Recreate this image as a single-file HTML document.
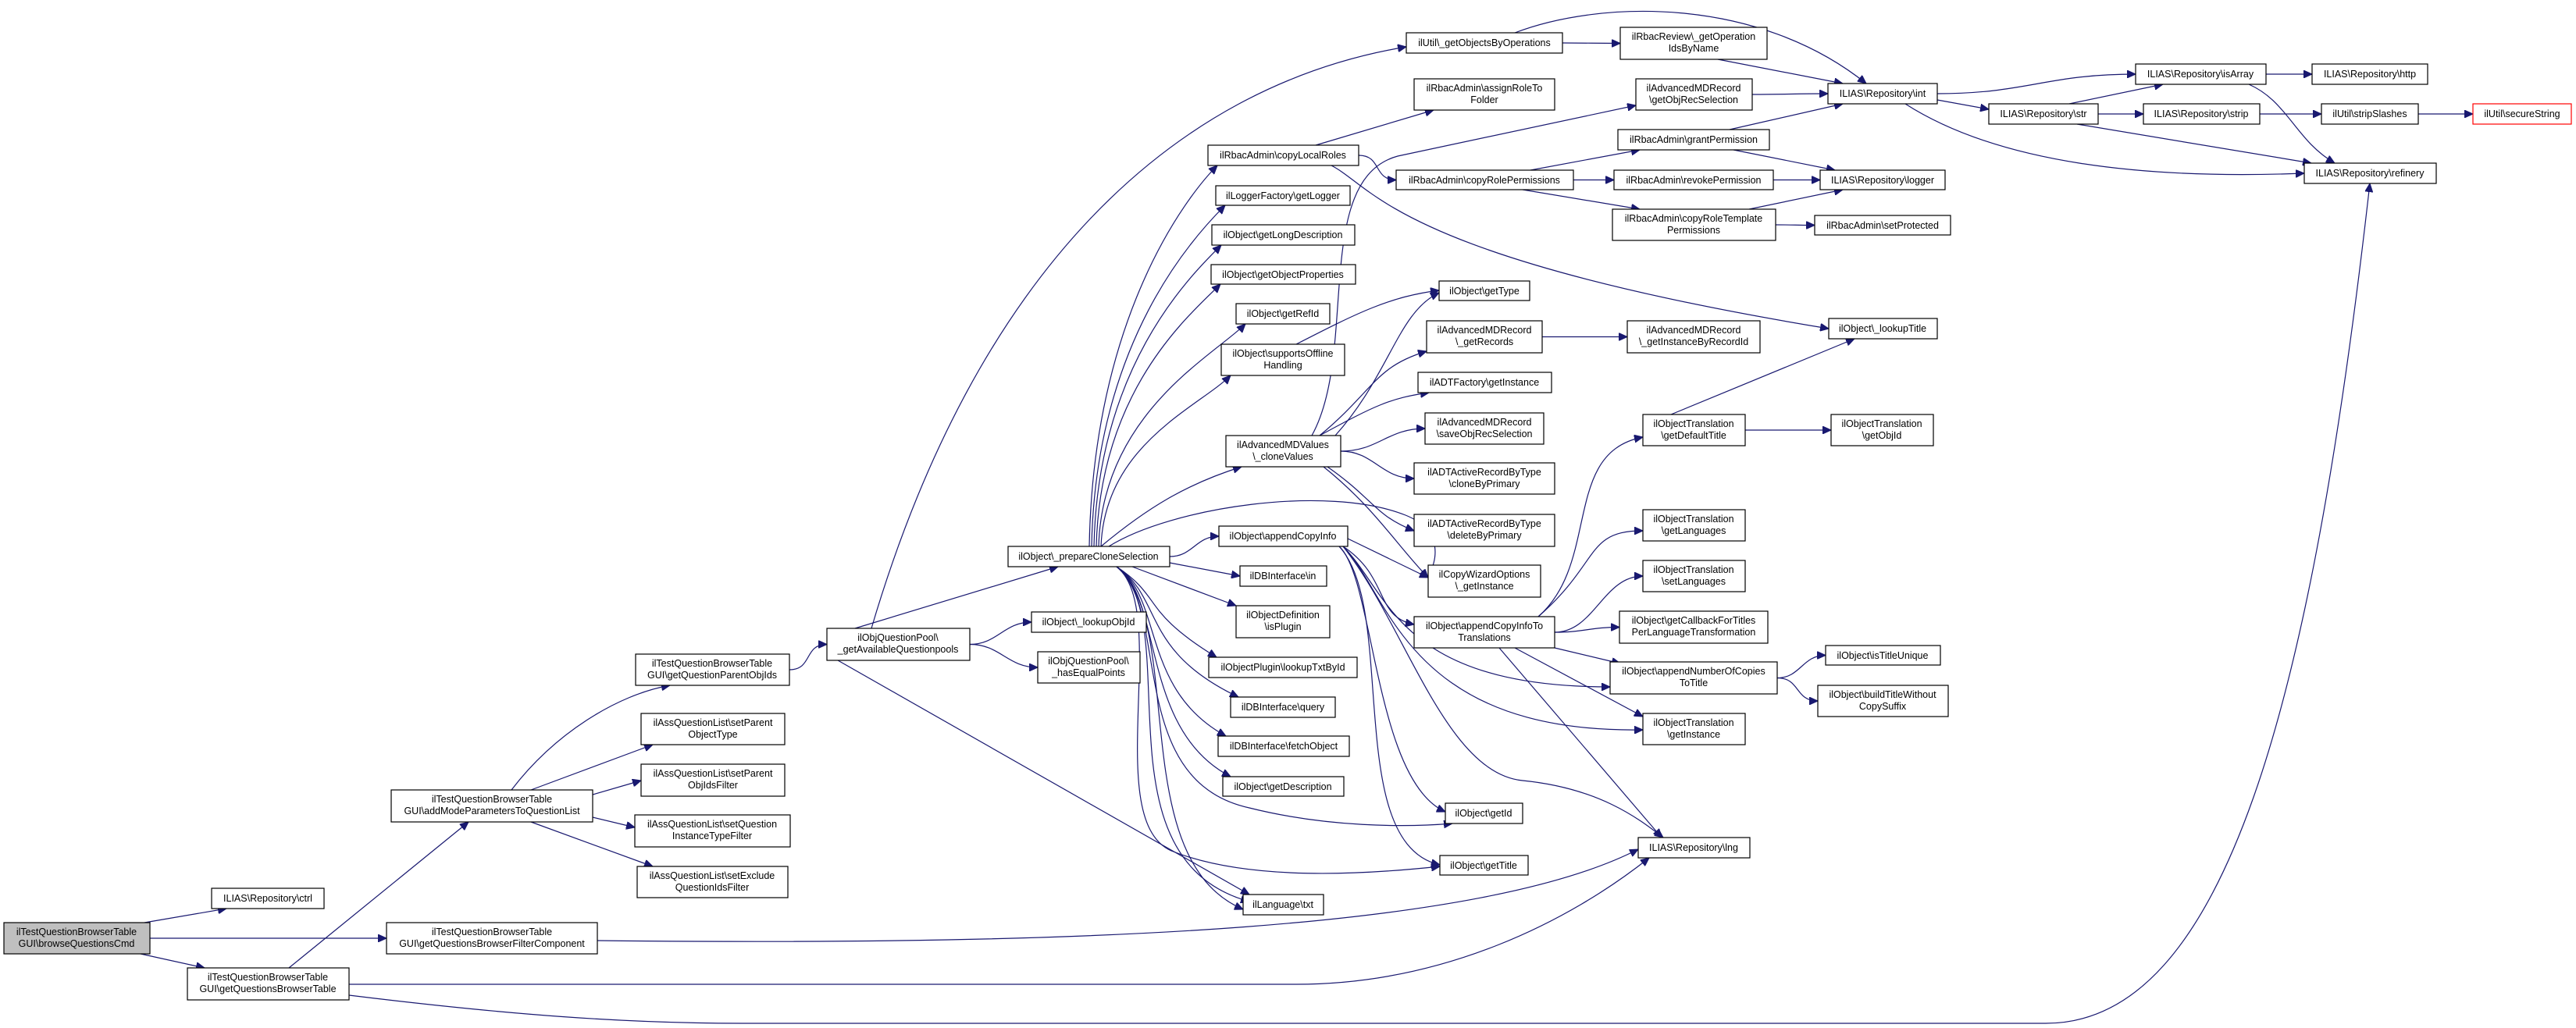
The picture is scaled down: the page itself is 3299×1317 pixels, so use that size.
<!DOCTYPE html>
<html><head><meta charset="utf-8"><style>
html,body{margin:0;padding:0;background:#fff;}
svg{display:block;}
text{font-family:"Liberation Sans",Arial,sans-serif;font-size:12.5px;fill:#000;text-anchor:middle;}
rect{fill:#fff;stroke:#000;stroke-width:1.2;}
path.e{fill:none;stroke:#191970;stroke-width:1.2;}
</style></head><body>
<svg id="s" width="3299" height="1317" viewBox="0 0 3299 1317" xmlns="http://www.w3.org/2000/svg">
<defs><marker id="a" markerWidth="12" markerHeight="10" refX="11" refY="5" orient="auto" markerUnits="userSpaceOnUse"><path d="M0,0 L11,5 L0,10 z" fill="#191970" stroke="#191970"/></marker></defs>
<g id="edges"></g>
<g id="nodes">
<rect x="5" y="1182" width="187" height="40" style="fill:#bfbfbf"/><text x="98" y="1198">ilTestQuestionBrowserTable</text><text x="98" y="1213">GUI\browseQuestionsCmd</text>
<rect x="271" y="1138" width="144" height="26"/><text x="343" y="1155">ILIAS\Repository\ctrl</text>
<rect x="495" y="1182" width="270" height="40"/><text x="630" y="1198">ilTestQuestionBrowserTable</text><text x="630" y="1213">GUI\getQuestionsBrowserFilterComponent</text>
<rect x="240" y="1240" width="207" height="41"/><text x="343" y="1256">ilTestQuestionBrowserTable</text><text x="343" y="1271">GUI\getQuestionsBrowserTable</text>
<rect x="501" y="1012" width="258" height="41"/><text x="630" y="1028">ilTestQuestionBrowserTable</text><text x="630" y="1043">GUI\addModeParametersToQuestionList</text>
<rect x="814" y="838" width="197" height="40"/><text x="912" y="854">ilTestQuestionBrowserTable</text><text x="912" y="869">GUI\getQuestionParentObjIds</text>
<rect x="821" y="914" width="184" height="40"/><text x="913" y="930">ilAssQuestionList\setParent</text><text x="913" y="945">ObjectType</text>
<rect x="821" y="979" width="184" height="41"/><text x="913" y="995">ilAssQuestionList\setParent</text><text x="913" y="1010">ObjIdsFilter</text>
<rect x="813" y="1044" width="199" height="41"/><text x="912" y="1060">ilAssQuestionList\setQuestion</text><text x="912" y="1075">InstanceTypeFilter</text>
<rect x="816" y="1110" width="193" height="40"/><text x="912" y="1126">ilAssQuestionList\setExclude</text><text x="912" y="1141">QuestionIdsFilter</text>
<rect x="1059" y="805" width="183" height="41"/><text x="1150" y="821">ilObjQuestionPool\</text><text x="1150" y="836">_getAvailableQuestionpools</text>
<rect x="1291" y="700" width="207" height="26"/><text x="1394" y="717">ilObject\_prepareCloneSelection</text>
<rect x="1321" y="784" width="147" height="26"/><text x="1394" y="801">ilObject\_lookupObjId</text>
<rect x="1329" y="835" width="131" height="40"/><text x="1394" y="851">ilObjQuestionPool\</text><text x="1394" y="866">_hasEqualPoints</text>
<rect x="1561" y="674" width="165" height="26"/><text x="1643" y="691">ilObject\appendCopyInfo</text>
<rect x="1588" y="725" width="111" height="26"/><text x="1643" y="742">ilDBInterface\in</text>
<rect x="1583" y="776" width="120" height="41"/><text x="1643" y="792">ilObjectDefinition</text><text x="1643" y="807">\isPlugin</text>
<rect x="1548" y="842" width="190" height="26"/><text x="1643" y="859">ilObjectPlugin\lookupTxtById</text>
<rect x="1576" y="893" width="134" height="26"/><text x="1643" y="910">ilDBInterface\query</text>
<rect x="1560" y="943" width="168" height="26"/><text x="1644" y="960">ilDBInterface\fetchObject</text>
<rect x="1566" y="995" width="155" height="25"/><text x="1643" y="1012">ilObject\getDescription</text>
<rect x="1592" y="1146" width="103" height="26"/><text x="1643" y="1163">ilLanguage\txt</text>
<rect x="1811" y="659" width="180" height="41"/><text x="1901" y="675">ilADTActiveRecordByType</text><text x="1901" y="690">\deleteByPrimary</text>
<rect x="1829" y="724" width="144" height="41"/><text x="1901" y="740">ilCopyWizardOptions</text><text x="1901" y="755">\_getInstance</text>
<rect x="1811" y="790" width="180" height="40"/><text x="1901" y="806">ilObject\appendCopyInfoTo</text><text x="1901" y="821">Translations</text>
<rect x="1851" y="1029" width="99" height="26"/><text x="1900" y="1046">ilObject\getId</text>
<rect x="1844" y="1096" width="113" height="25"/><text x="1900" y="1113">ilObject\getTitle</text>
<rect x="2098" y="1073" width="143" height="26"/><text x="2169" y="1090">ILIAS\Repository\lng</text>
<rect x="2104" y="653" width="131" height="40"/><text x="2169" y="669">ilObjectTranslation</text><text x="2169" y="684">\getLanguages</text>
<rect x="2104" y="718" width="131" height="40"/><text x="2169" y="734">ilObjectTranslation</text><text x="2169" y="749">\setLanguages</text>
<rect x="2074" y="783" width="190" height="41"/><text x="2169" y="799">ilObject\getCallbackForTitles</text><text x="2169" y="814">PerLanguageTransformation</text>
<rect x="2062" y="848" width="214" height="41"/><text x="2169" y="864">ilObject\appendNumberOfCopies</text><text x="2169" y="879">ToTitle</text>
<rect x="2104" y="914" width="131" height="40"/><text x="2169" y="930">ilObjectTranslation</text><text x="2169" y="945">\getInstance</text>
<rect x="2338" y="827" width="147" height="25"/><text x="2411" y="844">ilObject\isTitleUnique</text>
<rect x="2328" y="878" width="167" height="40"/><text x="2411" y="894">ilObject\buildTitleWithout</text><text x="2411" y="909">CopySuffix</text>
<rect x="1801" y="42" width="200" height="26"/><text x="1901" y="59">ilUtil\_getObjectsByOperations</text>
<rect x="2075" y="35" width="188" height="41"/><text x="2169" y="51">ilRbacReview\_getOperation</text><text x="2169" y="66">IdsByName</text>
<rect x="1811" y="101" width="180" height="40"/><text x="1901" y="117">ilRbacAdmin\assignRoleTo</text><text x="1901" y="132">Folder</text>
<rect x="2095" y="101" width="149" height="40"/><text x="2169" y="117">ilAdvancedMDRecord</text><text x="2169" y="132">\getObjRecSelection</text>
<rect x="1547" y="186" width="193" height="26"/><text x="1643" y="203">ilRbacAdmin\copyLocalRoles</text>
<rect x="2072" y="166" width="194" height="26"/><text x="2169" y="183">ilRbacAdmin\grantPermission</text>
<rect x="1788" y="218" width="227" height="25"/><text x="1901" y="235">ilRbacAdmin\copyRolePermissions</text>
<rect x="2067" y="218" width="204" height="25"/><text x="2169" y="235">ilRbacAdmin\revokePermission</text>
<rect x="2065" y="268" width="209" height="40"/><text x="2169" y="284">ilRbacAdmin\copyRoleTemplate</text><text x="2169" y="299">Permissions</text>
<rect x="1557" y="238" width="172" height="25"/><text x="1643" y="255">ilLoggerFactory\getLogger</text>
<rect x="1552" y="288" width="183" height="26"/><text x="1643" y="305">ilObject\getLongDescription</text>
<rect x="1551" y="339" width="185" height="25"/><text x="1643" y="356">ilObject\getObjectProperties</text>
<rect x="1583" y="389" width="120" height="26"/><text x="1643" y="406">ilObject\getRefId</text>
<rect x="1564" y="441" width="158" height="40"/><text x="1643" y="457">ilObject\supportsOffline</text><text x="1643" y="472">Handling</text>
<rect x="1843" y="360" width="116" height="25"/><text x="1901" y="377">ilObject\getType</text>
<rect x="1827" y="411" width="148" height="41"/><text x="1901" y="427">ilAdvancedMDRecord</text><text x="1901" y="442">\_getRecords</text>
<rect x="2084" y="411" width="170" height="41"/><text x="2169" y="427">ilAdvancedMDRecord</text><text x="2169" y="442">\_getInstanceByRecordId</text>
<rect x="1816" y="477" width="171" height="26"/><text x="1901" y="494">ilADTFactory\getInstance</text>
<rect x="1825" y="529" width="152" height="40"/><text x="1901" y="545">ilAdvancedMDRecord</text><text x="1901" y="560">\saveObjRecSelection</text>
<rect x="1570" y="558" width="147" height="40"/><text x="1643" y="574">ilAdvancedMDValues</text><text x="1643" y="589">\_cloneValues</text>
<rect x="1811" y="593" width="180" height="40"/><text x="1901" y="609">ilADTActiveRecordByType</text><text x="1901" y="624">\cloneByPrimary</text>
<rect x="2104" y="531" width="131" height="40"/><text x="2169" y="547">ilObjectTranslation</text><text x="2169" y="562">\getDefaultTitle</text>
<rect x="2341" y="107" width="140" height="26"/><text x="2411" y="124">ILIAS\Repository\int</text>
<rect x="2331" y="218" width="160" height="25"/><text x="2411" y="235">ILIAS\Repository\logger</text>
<rect x="2324" y="276" width="174" height="25"/><text x="2411" y="293">ilRbacAdmin\setProtected</text>
<rect x="2735" y="82" width="167" height="26"/><text x="2818" y="99">ILIAS\Repository\isArray</text>
<rect x="2961" y="82" width="148" height="26"/><text x="3035" y="99">ILIAS\Repository\http</text>
<rect x="2547" y="133" width="140" height="26"/><text x="2617" y="150">ILIAS\Repository\str</text>
<rect x="2745" y="133" width="149" height="26"/><text x="2819" y="150">ILIAS\Repository\strip</text>
<rect x="2973" y="133" width="124" height="26"/><text x="3035" y="150">ilUtil\stripSlashes</text>
<rect x="3167" y="133" width="126" height="26" style="stroke:#ff0000"/><text x="3230" y="150">ilUtil\secureString</text>
<rect x="2951" y="209" width="169" height="26"/><text x="3035" y="226">ILIAS\Repository\refinery</text>
<rect x="2342" y="408" width="139" height="26"/><text x="2411" y="425">ilObject\_lookupTitle</text>
<rect x="2345" y="531" width="131" height="40"/><text x="2410" y="547">ilObjectTranslation</text><text x="2410" y="562">\getObjId</text>
</g>
</svg>
<script>
var N={browse:[5,192,1182,1222],ctrl:[271,415,1138,1164],filt:[495,765,1182,1222],bt:[240,447,1240,1281],amp:[501,759,1012,1053],qpo:[814,1011,838,878],spot:[821,1005,914,954],spof:[821,1005,979,1020],sqit:[813,1012,1044,1085],seqi:[816,1009,1110,1150],oqp:[1059,1242,805,846],pcs:[1291,1498,700,726],loi:[1321,1468,784,810],hep:[1329,1460,835,875],aci:[1561,1726,674,700],dbin:[1588,1699,725,751],isp:[1583,1703,776,817],ltb:[1548,1738,842,868],dbq:[1576,1710,893,919],dbf:[1560,1728,943,969],gd:[1566,1721,995,1020],txt:[1592,1695,1146,1172],dbp:[1811,1991,659,700],cwo:[1829,1973,724,765],acit:[1811,1991,790,830],gid:[1851,1950,1029,1055],gti:[1844,1957,1096,1121],lng:[2098,2241,1073,1099],otgl:[2104,2235,653,693],otsl:[2104,2235,718,758],gcb:[2074,2264,783,824],anc:[2062,2276,848,889],otgi:[2104,2235,914,954],itu:[2338,2485,827,852],btw:[2328,2495,878,918],gob:[1801,2001,42,68],rr:[2075,2263,35,76],arf:[1811,1991,101,141],ors:[2095,2244,101,141],clr:[1547,1740,186,212],gp:[2072,2266,166,192],crp:[1788,2015,218,243],rp:[2067,2271,218,243],crt:[2065,2274,268,308],gl:[1557,1729,238,263],gld:[1552,1735,288,314],gop:[1551,1736,339,364],gri:[1583,1703,389,415],soh:[1564,1722,441,481],gty:[1843,1959,360,385],grec:[1827,1975,411,452],gibr:[2084,2254,411,452],adf:[1816,1987,477,503],sors:[1825,1977,529,569],cv:[1570,1717,558,598],cbp:[1811,1991,593,633],gdt:[2104,2235,531,571],int:[2341,2481,107,133],lg:[2331,2491,218,243],sp:[2324,2498,276,301],isa:[2735,2902,82,108],http:[2961,3109,82,108],str:[2547,2687,133,159],strip:[2745,2894,133,159],ss:[2973,3097,133,159],sec:[3167,3293,133,159],ref:[2951,3120,209,235],lt:[2342,2481,408,434],goi:[2345,2476,531,571]};
var g=document.getElementById('edges'),out='';
function P(d){out+='<path class="e" d="'+d+'" marker-end="url(#a)"/>';}
function E(a,b){var s=N[a],t=N[b];var x1=s[1],y1=(s[2]+s[3])/2,x2=t[0],y2=(t[2]+t[3])/2;var k=Math.max(30,(x2-x1)*0.45);P('M'+x1+','+y1+' C'+(x1+k)+','+y1+' '+(x2-k)+','+y2+' '+x2+','+y2);}
function UP(a,b,sx){var s=N[a],t=N[b];var x1=sx,y1=s[2],x2=t[0]+12,y2=t[3];P('M'+x1+','+y1+' C'+(x1+5)+','+(y1-(y1-y2)*0.6)+' '+(x2-40)+','+(y2+40)+' '+x2+','+y2);}
function DN(a,b,sx,sy){var s=N[a],t=N[b];var x1=sx,y1=sy,x2=t[0]+10,y2=t[2];P('M'+x1+','+y1+' C'+(x1+60)+','+(y1+40)+' '+(x1+30)+','+(y2-60)+' '+x2+','+y2);}
function L(x1,y1,x2,y2){P('M'+x1+','+y1+' L'+x2+','+y2);}
L(185,1182,290,1164);E('browse','filt');L(180,1222,262,1240);
L(370,1240,600,1053);
P('M447,1261 L1660,1261 C1850,1261 2010,1180 2112,1099');
P('M447,1275 C650,1300 800,1311 950,1311 L2620,1311 C2850,1311 2960,900 3035,235');
P('M765,1205 C1400,1212 1900,1190 2098,1088');
P('M655,1012 C710,940 790,890 858,878');L(680,1012,836,954);L(759,1018,821,1000);L(759,1047,813,1060);L(680,1053,836,1110);
E('qpo','oqp');
L(1095,805,1355,726);E('oqp','loi');E('oqp','hep');
L(1073,846,1600,1146);
P('M1116,805 C1250,350 1500,110 1801,60');
['clr','gl','gld','gop','gri','soh'].forEach(function(b,i){UP('pcs',b,1395+i*3);});
P('M1410,700 C1470,650 1520,620 1590,598');
P('M1420,700 C1500,650 1700,620 1800,660 C1850,680 1840,720 1829,738');
E('pcs','aci');L(1498,721,1588,738);L(1450,726,1583,776);
['ltb','dbq','dbf','gd'].forEach(function(b){DN('pcs',b,1430,726);});
P('M1430,726 C1500,780 1440,1000 1600,1035 C1700,1060 1800,1060 1860,1055');
P('M1430,726 C1500,780 1410,1050 1500,1090 C1600,1130 1750,1120 1844,1110');
P('M1430,726 C1520,800 1400,1100 1600,1155');
P('M1430,726 C1520,800 1440,1100 1592,1165');
E('gob','rr');P('M1940,42 C2050,0 2250,-5 2390,107');
L(2200,76,2360,107);E('ors','int');L(2215,166,2360,133);
L(1685,186,1836,141);E('clr','crp');P('M1705,212 C1760,240 1790,330 2342,421');
L(1960,218,2100,192);E('crp','rp');L(1950,243,2100,268);
L(2220,192,2350,218);E('rp','lg');L(2240,268,2360,243);E('crt','sp');
P('M1680,558 C1740,450 1680,230 1790,200 L2095,135');
P('M1710,558 C1780,480 1790,400 1843,375');
P('M1660,441 C1740,400 1780,380 1843,372');
P('M1690,558 C1760,500 1760,470 1827,450');
P('M1690,558 C1760,520 1780,510 1830,503');
E('cv','sors');E('cv','cbp');
P('M1700,598 C1760,640 1760,660 1811,680');
P('M1695,598 C1760,650 1790,700 1829,740');
E('grec','gibr');
E('int','isa');L(2481,128,2547,140);P('M2440,133 C2560,210 2750,230 2951,222');
L(2650,133,2770,108);E('str','strip');E('strip','ss');E('ss','sec');L(2660,159,2960,209);
E('isa','http');P('M2880,108 C2930,130 2940,180 2990,209');
L(1726,690,1829,740);
P('M1720,700 C1780,740 1760,790 1811,800');
P('M1715,700 C1760,740 1760,1000 1851,1040');
P('M1715,700 C1790,780 1720,1080 1844,1108');
P('M1720,700 C1800,800 1850,990 1950,1000 C2050,1010 2100,1050 2130,1073');
P('M1720,700 C1780,760 1790,880 2062,880');
P('M1720,700 C1780,760 1800,940 2104,935');
P('M1970,790 C2050,720 2000,580 2104,560');
P('M1970,790 C2050,720 2030,680 2104,680');E('acit','otsl');E('acit','gcb');
L(1991,830,2075,850);L(1940,830,2104,918);L(1920,830,2128,1073);
L(2140,531,2375,434);E('gdt','goi');E('anc','itu');E('anc','btw');
g.innerHTML=out;
</script>
</body></html>
